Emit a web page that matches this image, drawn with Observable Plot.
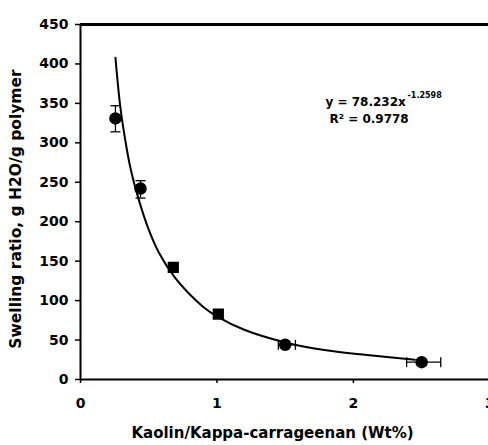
<!DOCTYPE html>
<html>
<head>
<meta charset="utf-8">
<script src="https://cdn.jsdelivr.net/npm/d3@7"></script>
<script src="https://cdn.jsdelivr.net/npm/@observablehq/plot@0.6"></script>
<style>
  html, body { margin: 0; padding: 0; background: #fff; }
  #chart svg { display: block; }
</style>
</head>
<body>
<div id="chart"></div>
<script>
// Measured points
const ptX = [0.256, 0.44, 0.68, 1.01, 1.50, 2.50];
const ptY = [331, 242, 142, 83, 44, 22];
const ptSymbol = ["circle", "circle", "square", "square", "circle", "circle"];
// Vertical error bars (null = none visible)
const yErrLow  = [314, 230, null, null, null, null];
const yErrHigh = [347, 252, null, null, null, null];
// Horizontal error bars
const xErrLow  = [null, null, null, null, 1.45, 2.39];
const xErrHigh = [null, null, null, null, 1.575, 2.64];
// Power trendline
const trendX = [0.256, 0.29, 0.32, 0.366, 0.427, 0.5, 0.574, 0.68, 0.8, 0.9, 1.0, 1.2, 1.5, 1.8, 2.1, 2.45];
const trendY = [408, 348, 312, 268, 228, 190, 161, 132, 108, 92, 80, 63, 47, 37, 31, 25];
// Axis ticks
const xTicks = [0, 1, 2, 3];
const yTicks = [0, 50, 100, 150, 200, 250, 300, 350, 400, 450];
// Texts
const xLabel = "Kaolin/Kappa-carrageenan (Wt%)";
const yLabel = "Swelling ratio, g H2O/g polymer";
const eqMain = "y = 78.232x";
const eqExp = "-1.2598";
const r2Text = "R² = 0.9778";

const points = ptX.map((x, i) => ({x, y: ptY[i], s: ptSymbol[i]}));
const yErr = ptX.map((x, i) => ({x, lo: yErrLow[i], hi: yErrHigh[i]})).filter(d => d.lo != null);
const xErr = ptX.map((x, i) => ({y: ptY[i], lo: xErrLow[i], hi: xErrHigh[i]})).filter(d => d.lo != null);
const trend = trendX.map((x, i) => ({x, y: trendY[i]}));

const hCap = {draw(ctx, size) { const r = Math.sqrt(size / Math.PI); ctx.moveTo(-r, 0); ctx.lineTo(r, 0); }};
const vCap = {draw(ctx, size) { const r = Math.sqrt(size / Math.PI); ctx.moveTo(0, -r); ctx.lineTo(0, r); }};

const FONT = "DejaVu Sans, sans-serif";

const chart = Plot.plot({
  width: 488,
  height: 445,
  marginLeft: 80,
  marginRight: 0,
  marginTop: 24,
  marginBottom: 66,
  style: {fontFamily: FONT, fontWeight: "bold", background: "#fff", color: "#000", overflow: "visible"},
  x: {domain: [0, 2.99]},
  y: {domain: [0, 450]},
  marks: [
    Plot.axisY({ticks: yTicks, tickSize: 5, tickPadding: 7, fontSize: 14, label: null, strokeWidth: 1.5}),
    Plot.axisX({ticks: xTicks, tickFormat: d => String(d), tickSize: 4, tickPadding: 15, fontSize: 14, label: null, strokeWidth: 1.5}),
    Plot.ruleY([0], {stroke: "#000", strokeWidth: 2}),
    Plot.ruleX([0], {stroke: "#000", strokeWidth: 2}),
    Plot.ruleY([450], {stroke: "#000", strokeWidth: 3}),
    Plot.line(trend, {x: "x", y: "y", curve: "catmull-rom", stroke: "#000", strokeWidth: 2}),
    Plot.ruleX(yErr, {x: "x", y1: "lo", y2: "hi", stroke: "#000", strokeWidth: 1.3}),
    Plot.dot(yErr, {x: "x", y: "lo", symbol: hCap, r: 5, stroke: "#000", strokeWidth: 1.3, fill: "none"}),
    Plot.dot(yErr, {x: "x", y: "hi", symbol: hCap, r: 5, stroke: "#000", strokeWidth: 1.3, fill: "none"}),
    Plot.ruleY(xErr, {y: "y", x1: "lo", x2: "hi", stroke: "#000", strokeWidth: 1.3}),
    Plot.dot(xErr, {x: "lo", y: "y", symbol: vCap, r: 5, stroke: "#000", strokeWidth: 1.3, fill: "none"}),
    Plot.dot(xErr, {x: "hi", y: "y", symbol: vCap, r: 5, stroke: "#000", strokeWidth: 1.3, fill: "none"}),
    Plot.dot(points, {x: "x", y: "y", symbol: "s", r: 5.5, fill: "#000", stroke: "#000"}),
    Plot.text([yLabel], {frameAnchor: "left", textAnchor: "middle", rotate: -90, dx: -64, dy: 7, fontSize: 15.5, fontWeight: "bold", fill: "#000"}),
    Plot.text([xLabel], {frameAnchor: "bottom", dx: -12, dy: 58, fontSize: 15, fontWeight: "bold", fill: "#000"}),
    Plot.text([eqMain], {frameAnchor: "top-left", textAnchor: "start", dx: 245, dy: 73, fontSize: 12, fontWeight: "bold", fill: "#000"}),
    Plot.text([eqExp], {frameAnchor: "top-left", textAnchor: "start", dx: 327, dy: 68, fontSize: 8, fontWeight: "bold", fill: "#000"}),
    Plot.text([r2Text], {frameAnchor: "top-left", textAnchor: "start", dx: 249, dy: 90, fontSize: 12, fontWeight: "bold", fill: "#000"})
  ]
});
chart.querySelectorAll("text").forEach(t => t.style.fontWeight = "bold");
document.getElementById("chart").appendChild(chart);
</script>
</body>
</html>
